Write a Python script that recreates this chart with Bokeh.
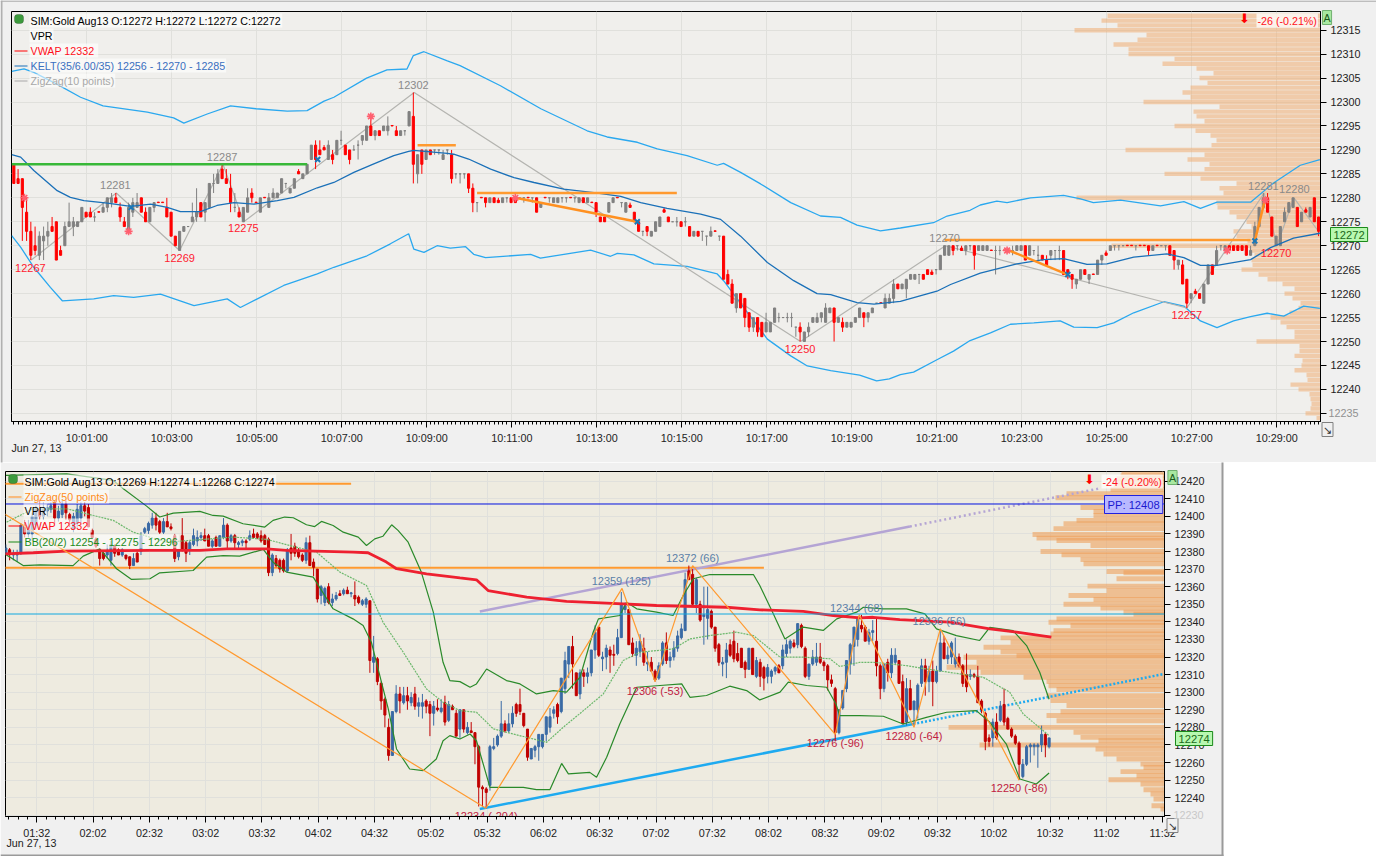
from bokeh.plotting import figure
from bokeh.layouts import column
from bokeh.models import Range1d, FixedTicker, Label, BoxAnnotation, Span, ColumnDataSource
from bokeh.core.properties import value
from bokeh.embed import file_html
from bokeh.resources import INLINE

BASE = 12000
FONT = "Liberation Sans"

# ---------- upper chart: 6 second bars (open, high, low, close), price minus 12000
top_bars_a = [(287,287,283,283),(284,286,283,283),(284,284,271,278),(277,280,271,273),(273,275,267,268),(270,274,268,269),(268,273,267,272),(271,274,267,272),(272,275,270,273),(274,276,273,273),(275,275,267,267),(269,270,268,268),(270,275,270,274),(274,279,274,275),(274,276,272,275),(274,275,274,275),(275,278,275,278),(277,277,276,276),(277,278,276,276),(276,277,275,276),(277.1,277.1,277,277),(277,279,277,278),(278,280,277,280),(279,281,278,280),(280,281,279,279),(278,279,275,276),(275,276,274,274),(273,279,273,278),(277,280,276,279),(278,281,278,279),(280,280,277,277),(277,278,275,275),(275,278,275,278),(278,279,277,279),(279.1,279.1,279,279),(279.1,279.1,279,279),(278,280,276,276),(277,277,272,272),(272,272,270,270),(269,273,269,273),(273,274,273,274),(274,274,274,274),(275,279,275,276),(276,282,275,277),(279,279,276,276),(277,279,275,279),(278,283,278,283),(283,285,281,283),(283,286,283,285),(286,287,284,284),(284,286,283,283),(282,285,277,279),(278,281,277,278),(277,278,276,276),(275,278,275,278),(277,282,277,280),(281,282,279,280),(279.1,279.1,279,279),(277,280,277,280),(280.1,280.1,280,280),(278,281,278,280),(280,282,280,281),(280,281,280,281),(281,284,281,284),(283,283,282,283),(281,282,281,282),(282,284,282,284),(285.5,286,285,285),(284,285,284,285),(285,287,285,287),(288,291,288,291),(291,292,286,288),(290,292,289,289),(290.5,291,290,290),(288,292,288,291),(289,290,287,288),(289,292,289,292),(292,294,291,292),(291,291,289,289),(290,290,287,288),(290,291,290,290),(291,292,288,291),(292,293,291,293),(292,295,292,295),(295,297,293,293),(293,294,292,294),(294,294,293,293),(294,295,294,295),(294,297,293,295),(295.1,295.1,295,295),(294,295,293,293),(293,294,293,294),(294,294,293,294),(295,298,295,298),(297,302,283,287),(285,289,283,289),(290,290,285,287),(288,290,288,290),(290,290,289,289),(290,290,289,290),(290,290,289,290),(288,290,288,289),(290,290,289,290),(289,290,283,284),(285,285,284,285)]
top_bars_b = [(285,285,283,285),(285,285,284,285),(285,285,281,282),(282,283,277,279),(279,279,277,279),(280.1,280.1,280,280),(280,280,278,279),(279,280,279,280),(280,280,279,279),(279.5,280,279,279),(279,280,279,280),(280,280,279,280),(280,280,279,279),(280,280,279,279),(280,280,280,280),(280,280,279,280),(280.1,280.1,280,280),(280,280,279,280),(280,280,277,277),(278,279,278,279),(280.1,280.1,280,280),(280,280,279,280),(279,280,279,280),(279,280,279,280),(280,280,279,280),(280,280,279,280),(280.1,280.1,280,280),(280,280,279,280),(279,280,279,280),(280,280,279,279),(279,280,279,280),(279.1,279.1,279,279),(279,279,276,277),(276,276,275,275),(276,276,275,275),(277,279,277,279),(279,280,279,280),(280.1,280.1,280,280),(279,279,278,279),(277,279,277,279),(278.5,279,278,278),(277,277,275,275),(275,275,273,273),(273,273,272,273),(274,274,272,273),(272,273,272,273),(273,275,273,275),(274,276,274,276),(277.5,278,277,277),(276,276,275,275),(275,275,275,275),(275,276,274,275),(275,275,274,274),(275,276,274,275),(274,274,272,272),(272,273,272,273),(273,273,272,272),(273,273,271,273),(272,272,270,272),(272,274,272,273),(273.1,273.1,273,273),(272,272,271,272),(272,272,263,263),(264,265,262,262),(262,263,258,258),(257,260,256,260),(260,260,257,257),(259,259,253,255),(256,256,252,253),(253,255,252,255),(255,255,251,252),(254,254,251,251),(252,256,252,254),(252,254,252,254),(254,257,254,257),(255,256,254,255),(255,255,255,255),(255,256,254,255),(255,256,253,255),(253,253,251,253),(253,254,250,252),(250,252,250,252),(252,254,251,253),(254,255,254,255),(254,256,254,255),(255,256,254,256),(254,258,254,257),(256,257,256,257),(257,257,250,254),(254,255,254,255),(254,255,252,253),(253,254,253,254),(253,254,253,254),(254,255,254,255),(255,257,255,257),(256,256,253,255),(255,256,254,256),(256,257,256,257),(258,258,258,258),(258.1,258.1,258,258),(257,260,257,259),(258,260,258,259),(259,263,258,262),(262,262,261,261)]
top_bars_c = [(261,262,261,262),(261,263,259,263),(263,264,263,264),(263,264,263,264),(264,264,262,264),(264,264,263,263),(265,265,264,264),(264.5,265,264,264),(265,265,264,265),(265,268,265,268),(268,270,268,270),(268,270,268,270),(270,270,268,269),(270,270,269,270),(269.5,270,269,269),(269,270,268,270),(270,270,269,270),(270,270,265,268),(269,270,269,270),(269,270,269,270),(269,270,269,270),(269.1,269.1,269,269),(269,270,264,269),(269,270,268,269),(269.1,269.1,269,269),(269,269,269,269),(269,270,268,269),(269,270,269,270),(269,270,269,270),(270,270,267,267),(268,270,268,270),(269,269,268,269),(268,270,267,268),(268,268,267,267),(267,268,266,266),(268,269,267,269),(269,269,267,269),(269,270,267,269),(269,269,264,264),(265,265,263,264),(264,264,261,263),(262,263,261,263),(263,265,263,265),(265,265,264,264),(263,264,262,264),(264.1,264.1,264,264),(264,267,264,267),(267,268,266,268),(268.5,269,268,268),(269,270,269,270),(270,270,269,270),(270,270,269,270),(270,270,270,270),(270.1,270.1,270,270),(270.1,270.1,270,270),(270,270,269,270),(270.1,270.1,270,270),(270.1,270.1,270,270),(270,270,268,269),(269,270,269,270),(270.1,270.1,270,270),(270,270,270,270),(270,270,269,270),(270,270,268,268),(269,269,265,267),(266,267,265,267),(266,267,262,262),(263,263,257,258),(259,260,258,260),(260.5,261,260,260),(260,260,259,259),(258,262,258,262),(262,266,262,266),(266,266,264,264),(266,270,266,269),(270,270,269,270),(269,270,269,270),(270,270,269,269),(270,270,269,269),(270,270,269,269),(270,270,269,269),(270,270,268,268),(268,270,268,269),(270,275,270,274),(274,278,274,278),(278,281,278,280),(280,281,277,277),(276,276,272,272),(270,272,270,272),(270,274,270,274),(275,278,275,277),(277,279,277,279),(278,280,278,280),(278,278,274,274),(275,277,275,277),(277.5,278,277,277),(276,278,276,278),(280,280,275,275),(276,276,272,273)]

# ---------- upper chart: indicators, x as bar number, price minus 12000
kelt_up_x = [-0.5,2.4,4.7,10,15.7,21,31.4,37.6,40,45.5,51,57,64.3,69,73,75.3,83,87.8,92.5,94,96.5,102,105,114.5,124,134.9,139.6,146.7,151.4,158.4,165.5,167,171,175.7,182.8,189.8,194.5,198.4,203.9,208.6,216.4,219.6,225,227.4,231.3,233.7,239.2,247,251,254,260.4,269.8,275.3,279.2,283.1,291,296.4,302.7,307.3]
kelt_up_y = [306.4,306.9,306.2,303.8,301,299.2,297.9,296.7,295.6,297.5,299.2,298.6,298.1,298.2,300.2,301,305,306.7,306.9,309.7,310.5,308.6,307.6,303.4,298.6,294,292.7,291.6,290.2,288.8,286.8,287.2,285.3,282.9,279,276.2,275.9,274.3,273.1,273.7,274.8,276.2,277.4,278.5,279.3,279,280,280.5,279.8,279,279.5,278.3,279.2,277.8,279.1,279.1,283.1,286.8,288]
kelt_mid_x = [-0.5,1.6,4.7,10.2,13.3,16.5,22,27.5,32.2,36.1,39.2,43.9,47.8,51.8,56.5,62,65.9,71.4,75.3,80,84.7,89.4,92.9,94.1,102,103.5,107,112.2,117.7,122.4,129.4,136.5,142.8,147.5,153.7,161.6,166.3,171,177.3,183.5,189,192.2,198.4,202.4,208.6,217.2,220.4,227.4,236,242.3,247,252.5,257.2,263.5,271.3,275.3,279.2,283.1,291,295.7,301.1,307.3]
kelt_mid_y = [289,288.5,285.7,281.5,280.1,279.4,278.9,278.2,278.7,278,277.1,277.1,278.4,279,278.7,279.4,280.1,282.1,283.2,285.3,287.1,288.8,289.7,289.9,289.3,289.1,288.1,286,284.2,283.2,281.8,281.1,280.3,279,277.8,276.6,275.5,272,266.5,262.7,260,259.8,258.1,257.8,258.4,260.5,261.9,264.3,266.2,267.1,267.3,266.1,266.2,267.6,268.3,267.5,265.9,265.9,267.1,269.6,271.6,272.6]
kelt_low_x = [-0.5,1.6,4.7,8.6,11.4,18.8,23.5,28.2,34.5,42.4,50.2,53.3,57.3,63.5,71.4,75.3,83.1,88.6,92.9,94.1,96.5,99.6,102.7,106.3,108.2,111,121.6,123.9,135.7,140.4,142,145.9,150.6,158.4,165.5,167,177.3,182.8,186.7,192.2,199,203,206,208.6,211.7,217.2,221.1,225,229.8,234.5,240,246.2,249.4,254.9,258.8,263.5,270.6,275.3,279.2,283.1,287,291,294.9,298.8,303.5,307.3]
kelt_low_y = [272.1,269.7,265.5,261.3,258.5,258.9,259.6,259.2,259.9,257.5,258.9,257.1,258.9,261.7,264.1,265.5,267.9,270.4,272.5,269.3,268.6,270,269.5,269.8,268.2,267.5,268.2,267.4,269.1,267.8,268.4,268.1,266.2,265.7,264.1,262.7,250.5,247,244.9,243.9,243,241.8,242.2,243.1,243.6,246.2,248,250.2,251.8,253.6,253.9,254.3,253,252.9,253.9,256,258.3,257.4,254.3,252.9,254.3,255.2,255.9,255.3,257.4,256.9]
zigzag_top_x = [4.1,24.1,39,49.2,54.1,94.2,185.1,219.2,276,294.2,297.2,301.2,307.3]
zigzag_top_y = [267,281,269,287,275,302,250,270,257,281,270,280,272.6]
pivot_top_text = ["12267","12281","12269","12287","12275","12302","12250","12270","12257","12281","12280","12270"]
pivot_top_x = [3.9,23.9,39,49,54,94,185,219,276,294,301.3,297]
pivot_top_y = [265.4,282.6,267.5,288.6,273.6,303.6,248.5,271.7,255.6,282.5,281.9,268.5]
pivot_top_col = ["#ff2030","#8a8a8a","#ff2030","#8a8a8a","#ff2030","#8a8a8a","#ff2030","#8a8a8a","#ff2030","#8a8a8a","#8a8a8a","#ff2030"]
star_x = [2.5,27,84,118,233.7,285.5,294.5]
star_y = [280,273,297,280,269,269,279.5]
cross_x = [27.6,71.5,146.7,248,292]
cross_y = [278,288,275,264,271]

profile_top_y = list(range(318, 233, -1))
profile_top_v = [213,219,203,246,174,183,207,192,192,146,158,124,107,121,113,130,138,130,177,101,127,124,116,146,125,110,104,109,195,116,133,111,116,156,120,84,101,97,244,104,103,91,84,74,69,87,84,73,209,71,66,69,68,79,62,53,38,26,36,28,20,22,31,50,40,34,26,26,64,21,21,26,18,19,26,14,13,30,22,11,10,9,10,15,4]

# ---------- lower chart: 2 minute bars
bot_bars_a = [(379,384,378,382),(381,382,375,379),(378,381,375,379),(378,381,374,379),(379,396,378,395),(395,398,388,390),(390,398,388,394),(390,402,386,400),(395,406,393,404),(404,409,398,400),(400,408,398,404),(403,407,400,405),(404,408,402,406),(408,409,396,399),(399,406,397,403),(401,409,399,407),(407,409,398,402),(401,402,394,398),(393,402,391,400),(396,407,394,404),(399,408,396,406),(406,408,400,403),(405,407,394,394),(392,393,387,388),(387,388,382,383),(381,382,372,376),(379,380,375,376),(378,384,376,380),(375,386,372,384),(383,384,377,379),(381,382,378,378),(378,382,377,381),(378,378,375,376),(377,377,370,372),(372,379,372,376),(379,380,374,374),(380,391,378,389),(391,394,390,393),(392,397,390,396),(395,402,393,399),(399,402,392,395),(397,398,390,391),(391,399,390,397),(397,402,394,394),(394,396,392,393),(389,390,374,376),(377,381,375,381),(389,399,380,381),(385,386,374,379),(381,386,378,385),(384,393,383,389),(386,392,383,388),(388,391,386,389),(389,393,386,386),(389,390,383,383),(383,387,382,386),(388,389,383,383),(383,389,383,389),(388,399,387,395),(395,396,382,386),(386,390,385,389),(389,390,382,385),(384,386,381,385),(385,387,383,386),(386,387,382,385),(387,392,386,389),(390,393,388,388),(390,391,387,388),(389,392,385,386),(389,390,384,384),(387,388,366,368),(368,379,366,378),(376,378,371,372),(375,376,368,370),(375,376,368,369),(369,382,368,381),(382,390,375,379),(383,385,377,379),(380,382,376,377),(378,379,374,375),(375,388,373,385),(385,389,372,372),(374,376,366,371),(370,370,351,353),(355,361,350,360),(351,360,349,359),(360,362,350,351),(351,356,349,353),(353,357,352,355),(356,358,355,355),(356,359,355,358),(358,360,356,356),(356,357,354,356.5),(355,363,349,353),(354,355,350,351),(350,353,349,352),(350,354,348,353),(352,352,311,318),(317,332,311,320),(319,320,304,306),(305,306,290,295),(296,297,280,287),(280,285,261,264),(264,289,264,289),(289,304,288,299),(299,303,288,295),(294,303,293,298),(298,303,290,295),(294,300,292,297),(299,303,290,292),(292,297,286,294),(292,299,285,294),(295,296,288,292),(293,295,275,288),(288,295,281,292),(291,296,289,290),(289,296,288,291),(294,298,281,283),(284,295,283,293),(292,293,290,290),(288,290,275,275)]
bot_bars_b = [(279,290,274,290),(290,290,277,279),(277,283,276,280),(278,283,277,277),(277,277,259,269),(269,270,235,246),(246,247,235,245),(245,246,234,243),(247,270,244,269),(268,274,267,269),(270,276,269,275),(275,295,274,282),(282,284,277,278),(278,288,277,282),(282,292,280,288),(293,294,286,288),(293,302,287,289),(288,288,280,281),(279,279,261,263),(262,268,262,268),(267,270,263,269),(269,276,261,276),(269,276,268,276),(276,286,272,286),(280,291,277,286),(288,292,285,290),(293,294,282,286),(289,308,288,308),(302,323,299,318),(316,326,308,326),(326,332,302,316),(311,311,298,298),(299,313,296,311),(311,313,303,309),(309,314,305,311),(311,323,309,324),(324,338,319,334),(337,337,320,321),(319,323,312,320),(320,327,313,325),(324,326,311,321),(321.5,327,315,321),(322,336,321,331),(331,357,331,350),(347,351,345,349),(347,347,327,327),(328,331,320,322),(321,329,315,325),(323,333,320,329),(325,331,315,317),(316,323,312,317),(317,320,312,312),(312,313,306,307),(308,317,307,315),(316,329,315,328),(328,334,316,318),(318,323,314,320),(320,329,318,325),(325,335,323,332),(331,339,330,336),(335,368,335,364),(369,372,364,364),(367,370,349,350),(350,365,345,364),(350,352,340,341),(343,360,327,344),(342,360,330,347),(346,347,336,337),(337,337,323,325),(327,328,315,317),(316,320,309,317),(317,328,308,324),(327,330,320,321),(329,335,317,319),(322,328,317,318),(325,325,314,314),(317,318,308,313),(313,325,313,325),(325,325,310,310),(309,320,308,318),(317,319,303,309),(314,315,301,308),(309,316,305,314),(309,313,305,312),(312,315,310,314),(315,316,311,311),(315,327,313,324),(322,330,320,327),(325,330,322,329),(328,330,325,326),(327,339,325,339),(338,339,325,326),(325,326,308,309),(309,316,307,316),(316,324,315,320),(317,328,315,320),(320,328,316,317),(317,318,312,315),(315,316,301,307),(307,310,303,305),(302,303,272,277),(277,290,276,290),(291,301,290,301),(302,318,300,318),(316,328,310,327)]
bot_bars_c = [(326,337,315,337),(330,343,326,342),(338,344,334,336),(337,338,329,329),(329,336,327,334),(334,341,329,335),(329,342,309,315),(315,316,296,302),(302,316,300,316),(317,319,306,311),(311,325,308,321),(317,325,316,321),(318,318,305,305),(306,310,282,282),(283,308,281,302),(302,307,290,290),(290,295,281,295),(290,305,285,304),(305,319,303,315),(315,319,298,306),(306,315,300,312),(312,318,292,306),(306,315,305,312),(312,336,312,328),(328,332,320,319),(319,326,316,321),(320,329,316,328),(316,331,314,320),(320,322,314,315),(315,316,303,305),(310,322,300,303),(309,313,307,310),(310,311,308,309),(309,315,294,294),(295,296,288,290),(288,289,267,272),(274,276,269,272),(274,285,269,283),(283,288,273,274),(284,295,283,292),(293,302,281,283),(285,286,279,279),(279,280,274,275),(275,276,270,271),(271,272,250,259),(252,262,251,259),(259,270,258,269),(269,271,260,270),(269,271,264,270),(269,271,257,270),(270,281,266,276),(276,277,263,270),(269,274,268,274)]

bb_up_x = [0,16.2,28.6,31.3,37.5,41,44.6,51.7,55.2,57.9,63.2,69,71.2,74.3,76.6,80.1,82.3,84.1,87.2,89.9,93.9,96.1,98.3,100.5,102.8,104.5,107.2,110.7,113.9,116.5,118.3,121,123.7,125.4,128.1,133.4,137,141.4,145.9,149.4,153,156.5,157.9,163.6,165.4,168.1,173.4,177.8,180.5,183.2,187.6,199.2,200.9,204.5,207.6,212.5,217.8,221.4,226.7,228.5,233.8,240,244.9,248,253.3,259.5,262.2,268.4,272,275.5,278]
bb_up_y = [423.3,424.2,420.4,415.7,405.8,399.6,401.8,402.8,400.5,400.1,395.8,393.9,397.7,399.6,399.2,395.2,394.2,397.1,394.8,391,388.2,383.4,387.2,388.7,395.2,392,385.3,368.3,345.5,317,306.6,306,302.8,304.7,313.2,306.6,304.7,299,300.9,300,308.5,334.1,341.7,343.6,351.2,347.4,345.5,343.6,355,364.5,366.9,366.9,360.7,344.6,330.3,337,335.1,341.7,345.5,348.3,347.4,347.4,344.5,336,332.2,329.4,336.9,335,326.5,311.3,296]
bb_low_x = [-0.3,4.6,9.1,17.9,20.6,25,29.5,33.5,38.4,41,49.9,53.5,57.9,62.3,68.6,71.2,74.8,81.9,87.2,92.5,95.2,97.4,100.1,101.9,104.1,107.6,111.2,114.7,116.5,118.3,121,123.7,125.4,129,137.9,141.4,145,148.1,149.9,155.6,157.4,160.1,163.6,168.1,174.3,180.1,182.3,186.7,192.9,197.4,200.9,206.3,208.5,213.4,218.7,221.2,222.2,227.6,233.8,239.1,245.3,250.7,258.6,262.2,266.6,270.2,274.6,278]
bb_low_y = [378.7,372,372.4,372,377.4,381.5,370.2,364.1,364.5,367.9,369.2,376.8,377.7,377.4,381.2,373.9,368.3,365.4,347.4,341.7,337.9,328.4,305.6,290.5,267.7,256.3,255.4,262,272.4,275.3,273.4,276.2,272.4,245.9,245.9,244.6,244.6,259.5,253.5,254.4,251.6,263,281.9,302.8,303.8,304.7,297.1,298.1,303.4,300.9,295.6,300,305.7,303.8,302.8,293.3,286.7,286.7,286.3,281.9,285.7,288.6,289.5,282.9,270.5,250.6,247.8,254]
bb_mid_x = [0.2,7.3,16.2,23.3,28.6,33.9,42.8,60.6,69.5,75.7,82.8,89,96.1,100.5,105.9,112.1,116.5,121,125.4,129.9,138.8,144.1,148.5,153.9,159.2,164.5,169,177.8,182.3,187.6,194.7,199.2,206.3,212.5,219.6,222.2,227.6,231.1,240,245.3,254.2,260.4,267.5,271.1,278]
bb_mid_y = [396.7,404.3,404.3,400.5,397.7,391,385.3,388.2,386.9,383.4,379.6,368.3,360.7,339.8,322.7,301.8,294.3,289.5,288.6,279.1,274.3,271.5,280,289.5,299,318,322.7,324.6,330.3,332.2,334.1,332.2,319.9,319.9,319,314.6,317,317,315.1,313.2,310.4,308.5,300,287.6,275.3]
vwap_x = [-0.3,7.3,16.2,38.4,51.7,58.8,69.5,74.8,92.5,96.5,101.4,104.1,112.1,121,125.4,128.5,138.8,149.4,160.1,173.4,192,200.9,212.5,220.5,227.6,231.1,238.2,251.5,262.2,269.3,278.6]
vwap_y = [378.7,379.3,380.2,380.6,380.6,381.5,381.5,380.6,379.6,379.3,374,370.2,367.3,365,363.9,357.8,354,351.6,350.6,349.3,348.3,346.8,346,343.6,342.3,342.6,341.3,339.8,336,334.1,331.3]
zigzag_bot_x = [-0.5,127.9,164.2,173,183,221,227.4,242,249,270]
zigzag_bot_y = [401.5,234,359,306,372,276,344,280,336,250]
pivot_bot_text = ["12234 (-204)","12359 (125)","12372 (66)","12306 (-53)","12276 (-96)","12344 (68)","12280 (-64)","12336 (56)","12250 (-86)"]
pivot_bot_x = [128,164,183,173,221,226.7,242,248.7,270]
pivot_bot_y = [229.7,363,376.4,300.9,271.2,348,275,340.4,245.3]
pivot_bot_col = ["#c02040","#5a7fa8","#5a7fa8","#c02040","#c02040","#5a7fa8","#c02040","#5a7fa8","#c02040"]
trend_blue_x = [126.3,241.8]
trend_blue_y = [233.6,281.9]
trend_blue_dot_x = [241.8,308.7]
trend_blue_dot_y = [281.9,310.4]
trend_purple_x = [126.3,240.9]
trend_purple_y = [345.9,394.2]
trend_purple_dot_x = [240.9,291.5]
trend_purple_dot_y = [394.2,415.9]

profile_bot_y = [425,423,421.4,419.5,417.6,415.3,412.8,410.6,408.5,405,402.8,400.5,397.7,395.8,393,389.7,387.6,386.3,383.4,380,378.1,375.5,373,368.6,367.9,364.5,360.3,357.8,355,352.7,350,347.8,345.5,344.3,341.7,339.8,337.9,335,333.1,330.9,328.4,325.6,323,320.8,319.9,317,314.2,311.3,308.5,306,303.7,301.5,298,295.2,292.4,288.9,286.7,283.8,280,277.2,274.3,272.4,270,267.7,264.8,262,259.1,257.2,254.8,252.5,250.2,247.8,244.5,242.1,239.3,235.4,233.5]
profile_bot_v = [43,44,48,48,51,54,98,109,54,84,71,71,88,101,111,132,128,108,74,124,103,84,81,58,41,48,77,58,96,71,101,64,41,31,108,116,94,111,114,164,154,181,164,148,201,188,218,184,141,118,116,108,118,114,98,104,118,108,216,91,84,66,185,69,61,48,24,21,44,28,56,24,21,14,11,13,4]

top_tick_labels = ["10:01:00","10:03:00","10:05:00","10:07:00","10:09:00","10:11:00","10:13:00","10:15:00","10:17:00","10:19:00","10:21:00","10:23:00","10:25:00","10:27:00","10:29:00"]
bot_tick_labels = ["01:32","02:02","02:32","03:02","03:32","04:02","04:32","05:02","05:32","06:02","06:32","07:02","07:32","08:02","08:32","09:02","09:32","10:02","10:32","11:02","11:32"]

TOP_W, TOP_H = 1376, 462
BOT_W, BOT_H = 1223, 394
AXFS = "10.8px"
TXFS = "10.7px"


def sec(lbl):
    h, m, s = lbl.split(":")
    return int(h) * 3600 + int(m) * 60 + int(s)


def mins(lbl):
    h, m = lbl.split(":")
    return int(h) * 60 + int(m)


def tx(i):
    return 35957 + 6 * i


def bx(i):
    return 75.5 + 2 * i


def yb(vals):
    return [BASE + v for v in vals]


def base_fig(w, h, xr, yr, bl, br, bt, bb, bg, ytick):
    p = figure(width=w, height=h, x_range=xr, y_range=yr, y_axis_location="right", toolbar_location=None,
               output_backend="svg", min_border_left=bl, min_border_right=br, min_border_top=bt, min_border_bottom=bb,
               background_fill_color=bg, border_fill_color="#f0f0f0", outline_line_color="#000000",
               frame_align=False)
    p.yaxis.ticker = FixedTicker(ticks=ytick)
    p.yaxis.formatter.use_scientific = False
    p.yaxis.formatter.precision = 0
    for a in (p.xaxis, p.yaxis):
        a.axis_line_color = "#000000"
        a.major_tick_line_color = "#000000"
        a.major_tick_in = 0
        a.major_tick_out = 6
        a.major_label_text_font = FONT
        a.major_label_text_font_size = AXFS
        a.major_label_text_color = "#222222"
        a.major_label_standoff = 4
    p.yaxis.minor_tick_line_color = None
    p.xaxis.minor_tick_line_color = "#000000"
    p.xaxis.minor_tick_in = 0
    p.xaxis.minor_tick_out = 3
    p.xgrid.grid_line_color = "#e0e0dc"
    p.ygrid.grid_line_color = "#e0e0dc"
    return p


def candles(p, xs, bars, up, down, bw):
    o = yb([b[0] for b in bars])
    h = yb([b[1] for b in bars])
    l = yb([b[2] for b in bars])
    c = yb([b[3] for b in bars])
    col = [down if cc < oo else up for oo, cc in zip(o, c)]
    src = ColumnDataSource(dict(x=xs, o=o, h=h, l=l, c=c, col=col))
    p.segment("x", "h", "x", "l", source=src, line_color="col", line_width=1)
    p.vbar("x", width=bw, top="o", bottom="c", source=src, fill_color="col", line_color="col", line_width=1)


# transparent figure over the whole page that carries the window furniture (page pixels as its units)
ov = figure(width=1376, height=856, x_range=Range1d(0, 1376), y_range=Range1d(856, 0), x_axis_type=None, y_axis_type=None,
            toolbar_location=None, output_backend="svg", min_border=0, outline_line_color=None,
            background_fill_alpha=0, border_fill_alpha=0)
ov.grid.visible = False
ov.styles = {"position": "absolute", "left": "0px", "top": "0px", "pointer-events": "none"}


def text(x, py, s, color="#000000", bg="#ffffff", bga=0.6, align="left", size=TXFS, border=None, font=FONT, pad=1):
    ov.add_layout(Label(x=x, y=py, text=s, text_color=color,
                        text_font=font, text_font_size=size, text_align=align, text_baseline="middle",
                        background_fill_color=bg, background_fill_alpha=bga,
                        border_line_color=border, padding=pad))


def rect(x0, x1, y0, y1, fill, line=None, radius=0):
    ov.add_layout(BoxAnnotation(left=x0, right=x1, top=y0, bottom=y1,
                                fill_color=fill, fill_alpha=1, line_color=line, border_radius=radius))


# ================ upper chart
top_bars = top_bars_a + top_bars_b + top_bars_c
t_ticks = [sec(s) for s in top_tick_labels]
p1 = base_fig(TOP_W, TOP_H, Range1d(35953.7, 37801.7), Range1d(12233.3, 12318.9), 11, 56, 11, 41, "#f0efec",
              list(range(12235, 12320, 5)))
p1.xaxis.ticker = FixedTicker(ticks=t_ticks, minor_ticks=[tx(i) for i in range(0, 309)])
p1.xgrid.ticker = FixedTicker(ticks=t_ticks)
p1.xaxis.major_label_overrides = dict(zip(t_ticks, top_tick_labels))
p1.yaxis.major_label_overrides = {12235: ""}
p1.extra_x_ranges = {"vol": Range1d(1309, 0)}
p1.hbar(y=yb(profile_top_y), left=0, right=profile_top_v, height=0.92, x_range_name="vol",
        fill_color="#f0a868", fill_alpha=0.5, line_color=None)

p1.line([tx(i) for i in kelt_up_x], yb(kelt_up_y), line_color="#2aa8ef", line_width=1.3)
p1.line([tx(i) for i in kelt_low_x], yb(kelt_low_y), line_color="#2aa8ef", line_width=1.3)
p1.line([tx(i) for i in zigzag_top_x], yb(zigzag_top_y), line_color="#b4b4b0", line_width=1.2)
candles(p1, [tx(i) for i in range(len(top_bars))], top_bars, "#808080", "#ff0000", 3.0)
p1.line([tx(i) for i in kelt_mid_x], yb(kelt_mid_y), line_color="#1a70b8", line_width=1.3)

p1.line([tx(-0.5), tx(69)], [12287, 12287], line_color="#38b838", line_width=2.5)
p1.line([tx(95), tx(104)], [12291, 12291], line_color="#ff9a30", line_width=2.5)
p1.line([tx(109), tx(156)], [12281, 12281], line_color="#ff9a30", line_width=2.5)
p1.line([tx(118), tx(146.7)], [12280, 12275], line_color="#ff9020", line_width=2.5)
p1.line([tx(219), tx(291)], [12271.2, 12271.2], line_color="#ff9a30", line_width=2.5)
p1.line([tx(233.7), tx(247.8)], [12269.2, 12264], line_color="#ff9020", line_width=2.5)
p1.line([tx(292), tx(294.5)], [12271, 12280], line_color="#ff9020", line_width=2.5)
p1.scatter([tx(i) for i in star_x], yb(star_y), marker="asterisk", size=8, line_color="#ff6070", line_width=1.6)
p1.scatter([tx(i) for i in cross_x], yb(cross_y), marker="x", size=7, line_color="#1a78b8", line_width=2)
p1.text([tx(i) for i in pivot_top_x], yb(pivot_top_y), text=pivot_top_text, text_color=pivot_top_col,
        text_font=value(FONT), text_font_size="11px", text_align="center", text_baseline="middle")

text(29, 20, "SIM:Gold Aug13 O:12272 H:12272 L:12272 C:12272")
text(29, 35, "VPR")
text(29, 50, "VWAP  12332", "#ff1020")
text(29, 65, "KELT(35/6.00/35) 12256 - 12270 - 12285", "#3a6fc0")
text(29, 80, "ZigZag(10 points)", "#a8a8a8")
rect(14, 27, 50, 51, "#ff0000")
rect(14, 27, 65, 66, "#1a70b8")
rect(14, 27, 80, 81, "#a8a8a8")
rect(14, 23, 14, 23, "#3c9a3c", "#204020", 3)
text(1256, 20, "-26 (-0.21%)", "#ff1020", bga=0.75)
text(1244, 18, "\u2b07", "#ff0000", bga=0, align="center", size="13px", font="DejaVu Sans")
text(1326.5, 17, "A", "#1a5a1a", bg="#a8e8a0", bga=1, align="center", border="#70b070")
text(1330, 234, "12272", "#1a6a1a", bg="#b8f8b0", bga=1, border="#1a8a1a", size="11.2px", pad=3)
text(1327, 429, "\u2198", "#333333", bg="#f0f0f0", bga=1, align="center", border="#808080")
text(1327, 412, "12235", "#909090", bga=0, size=AXFS)
text(10, 447, "Jun 27, 13", "#222222", bga=0)
rect(0, 1376, 0, 1, "#8a8a8a")
rect(0, 2, 0, 462, "#b0b0b0")

# ================ lower chart
bot_bars = bot_bars_a + bot_bars_b + bot_bars_c
b_ticks = [mins(s) for s in bot_tick_labels]
p2 = base_fig(BOT_W, BOT_H, Range1d(75.3, 693), Range1d(12229.3, 12425.5), 5, 59, 9, 40, "#eeebe0",
              list(range(12230, 12430, 10)))
p2.xaxis.ticker = FixedTicker(ticks=b_ticks, minor_ticks=list(range(77, 694, 5)))
p2.xgrid.ticker = FixedTicker(ticks=b_ticks)
p2.xaxis.major_label_overrides = dict(zip(b_ticks, bot_tick_labels))
p2.yaxis.major_label_overrides = {12230: ""}
p2.extra_x_ranges = {"vol": Range1d(1159.3, 0)}
p2.hbar(y=yb(profile_bot_y), left=0, right=profile_bot_v, height=2.8, x_range_name="vol",
        fill_color="#ee9e5a", fill_alpha=0.58, line_color=None)

p2.add_layout(Span(location=12407.02, dimension="width", line_color="#0010e0", line_width=1))
p2.add_layout(Span(location=12344.46, dimension="width", line_color="#10a8e0", line_width=1))
p2.line([bx(-0.5), bx(92)], [12418.5, 12418.5], line_color="#ff9a30", line_width=2)
p2.line([bx(-0.5), bx(202)], [12370.7, 12370.7], line_color="#ff9a30", line_width=2)
p2.line([bx(i) for i in trend_purple_x], yb(trend_purple_y), line_color="#b4a4d4", line_width=2.5)
p2.line([bx(i) for i in trend_purple_dot_x], yb(trend_purple_dot_y), line_color="#b4a4d4", line_width=2.5, line_dash="2 3")
p2.line([bx(i) for i in trend_blue_x], yb(trend_blue_y), line_color="#1eaaf0", line_width=2.5)
p2.line([bx(i) for i in trend_blue_dot_x], yb(trend_blue_dot_y), line_color="#1eaaf0", line_width=2.5, line_dash="2 2")
candles(p2, [bx(i) for i in range(len(bot_bars))], bot_bars, "#3a6aa5", "#c00000", 1.1)
p2.line([bx(i) for i in bb_mid_x], yb(bb_mid_y), line_color="#6cb86c", line_width=1.2, line_dash="2 1")
p2.line([bx(i) for i in bb_up_x], yb(bb_up_y), line_color="#2a8a2a", line_width=1.2)
p2.line([bx(i) for i in bb_low_x], yb(bb_low_y), line_color="#2a8a2a", line_width=1.2)
p2.line([bx(i) for i in vwap_x], yb(vwap_y), line_color="#ee2030", line_width=2.8)
p2.line([bx(i) for i in zigzag_bot_x], yb(zigzag_bot_y), line_color="#ff9a30", line_width=1.2)
p2.text([bx(i) for i in pivot_bot_x], yb(pivot_bot_y), text=pivot_bot_text, text_color=pivot_bot_col,
        text_font=value(FONT), text_font_size="11px", text_align="center", text_baseline="middle")

text(23, 481, "SIM:Gold Aug13 O:12269 H:12274 L:12268 C:12274")
text(23, 496, "ZigZag(50 points)", "#ff8c1a")
text(23, 510, "VPR")
text(23, 525, "VWAP  12332", "#ff1020")
text(23, 541, "BB(20/2) 12254 - 12275 - 12296", "#1a8a1a")
rect(8, 21, 496, 497, "#ff8c1a")
rect(8, 21, 525, 526, "#ff0000")
rect(8, 21, 541, 542, "#1a8a1a")
rect(8, 17, 474, 483, "#3c9a3c", "#204020", 3)
text(1101, 481, "-24 (-0.20%)", "#ff1020", bga=0.75)
text(1089, 479, "\u2b07", "#ff0000", bga=0, align="center", size="13px", font="DejaVu Sans")
text(1172, 477, "A", "#1a5a1a", bg="#a8e8a0", bga=1, align="center", border="#70b070")
text(1104, 504, "PP: 12408", "#1a1ad0", bg="#b8b8ff", bga=1, border="#2020e0", size="11.2px", pad=3)
text(1175, 738, "12274", "#1a6a1a", bg="#b8f8b0", bga=1, border="#1a8a1a", size="11.2px", pad=3)
text(1172, 825, "\u2198", "#333333", bg="#f0f0f0", bga=1, align="center", border="#808080")
text(1172, 814, "12230", "#c8c8c8", bga=0, size=AXFS)
text(5, 842, "Jun 27, 13", "#222222", bga=0)
rect(1221, 1223, 462, 856, "#9a9a9a")
rect(0, 1223, 854, 856, "#9a9a9a")

page = column(p1, p2, spacing=0)
page.styles = {"position": "absolute", "left": "0px", "top": "0px"}
open("out.html", "w").write(file_html((page, ov), INLINE))
print(len(top_bars), len(bot_bars))
